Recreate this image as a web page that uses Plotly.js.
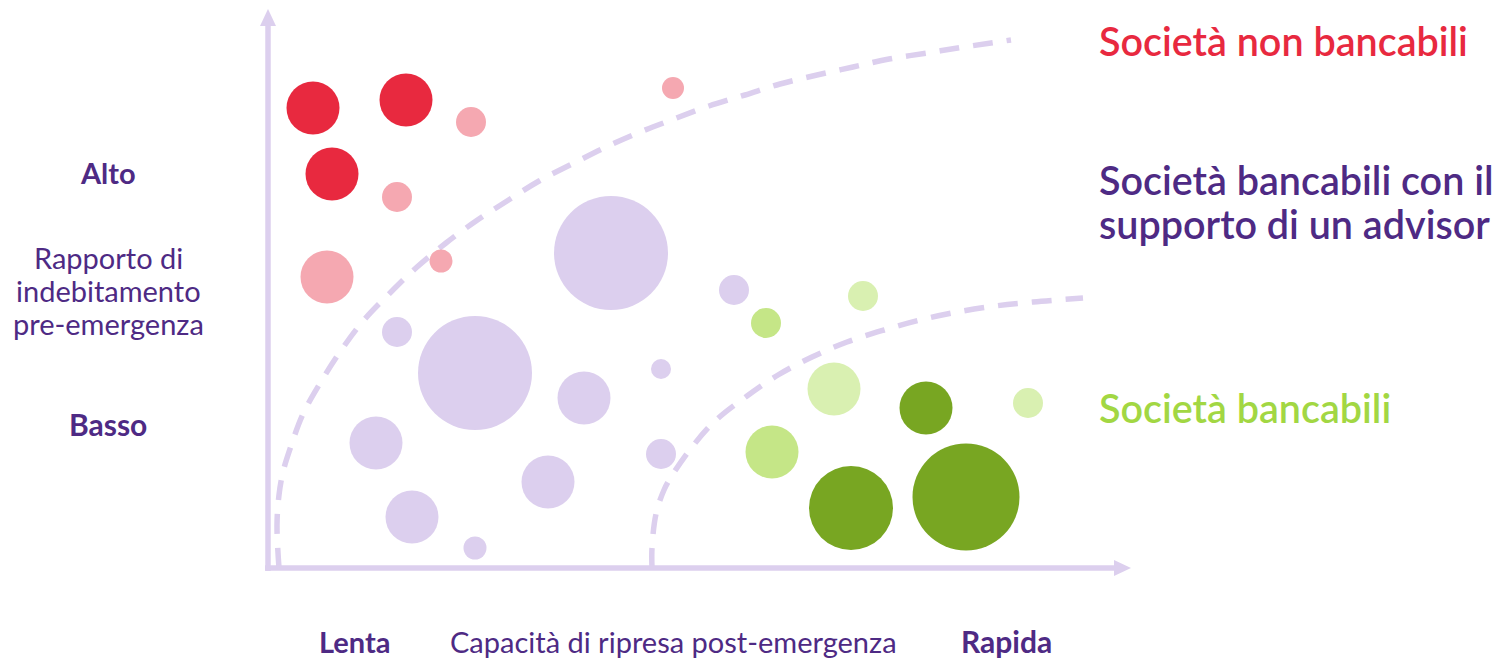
<!DOCTYPE html>
<html>
<head>
<meta charset="utf-8">
<script src="https://cdn.plot.ly/plotly-3.0.1.min.js"></script>
<style>
html,body{margin:0;padding:0;background:#ffffff;}
#chart{width:1499px;height:660px;}
</style>
</head>
<body>
<div id="chart"></div>
<script>
// ---- Data (x = recovery speed, y = pre-emergency leverage) ----
const darkRedX = [45, 138, 64];
const darkRedY = [460, 468, 394];
const darkRedSize = [53, 53, 53];

const lightRedX = [203, 129, 405, 59, 173];
const lightRedY = [446, 371, 480, 291, 307];
const lightRedSize = [30, 30, 22, 53, 23];

const purpleX = [343, 207, 129, 316, 108, 144, 207, 280, 393, 393, 466];
const purpleY = [315, 195, 236, 170, 125, 51, 20, 86, 199, 114, 278];
const purpleSize = [114, 114, 30, 53, 53, 53, 23, 53, 20, 30, 30];

const lightGreenX = [498, 504];
const lightGreenY = [245, 116];
const lightGreenSize = [30, 53];

const paleGreenX = [595, 566, 760];
const paleGreenY = [272, 179, 165];
const paleGreenSize = [30, 53, 30];

const darkGreenX = [658, 583, 698];
const darkGreenY = [160, 60, 71];
const darkGreenSize = [53, 84, 107];

// boundary curves
const outerCurveX = [11, 9, 11, 15, 22, 35, 54, 74, 96, 122, 149, 178, 208, 239, 271, 304, 338, 372, 406, 441, 477, 512, 549, 585, 621, 659, 696, 743];
const outerCurveY = [0, 43, 73, 96, 119, 154, 188, 219, 248, 275, 301, 325, 347, 367, 387, 404, 421, 436, 449, 462, 473, 484, 493, 501, 509, 515, 521, 528];

const innerCurveX = [384, 384, 388, 396, 405, 424, 447, 479, 510, 544, 579, 616, 652, 689, 727, 765, 815];
const innerCurveY = [0, 20, 54, 78, 94, 121, 147, 172, 193, 211, 226, 238, 248, 256, 262, 266, 270];

// texts
const axisEnds = {x: 863, y: 559};
const groupLabels = ['Società non bancabili', 'Società bancabili con il', 'supporto di un advisor', 'Società bancabili'];
const yTickLabels = ['Alto', 'Basso'];
const xTickLabels = ['Lenta', 'Rapida'];
const yTitleLines = ['Rapporto di', 'indebitamento', 'pre-emergenza'];
const xTitle = 'Capacità di ripresa post-emergenza';

// ---- Styles ----
const C = {
  darkRed: '#E8293F', lightRed: '#F5A8B1', purple: '#DCCFEE',
  lightGreen: '#C5E687', paleGreen: '#D9F0B1', darkGreen: '#78A622',
  text: '#4E2A84', greenText: '#A2D743'
};
const FONT = 'Lato, "Open Sans", sans-serif';

function bubbles(x, y, s, color) {
  return {type: 'scatter', mode: 'markers', x: x, y: y, hoverinfo: 'skip', showlegend: false,
    marker: {size: s, sizemode: 'diameter', color: color, opacity: 1, line: {width: 0}}};
}
function curve(x, y) {
  return {type: 'scatter', mode: 'lines', x: x, y: y, hoverinfo: 'skip', showlegend: false,
    line: {color: C.purple, width: 5.5, dash: '20px,14px', shape: 'spline', smoothing: 1}};
}

const traces = [
  curve(outerCurveX, outerCurveY),
  curve(innerCurveX, innerCurveY),
  bubbles(purpleX, purpleY, purpleSize, C.purple),
  bubbles(darkRedX, darkRedY, darkRedSize, C.darkRed),
  bubbles(lightRedX, lightRedY, lightRedSize, C.lightRed),
  bubbles(lightGreenX, lightGreenY, lightGreenSize, C.lightGreen),
  bubbles(paleGreenX, paleGreenY, paleGreenSize, C.paleGreen),
  bubbles(darkGreenX, darkGreenY, darkGreenSize, C.darkGreen)
];

function label(text, x, y, size, color, weight, anchor) {
  return {text: text, x: x, y: y, xref: 'x', yref: 'y', showarrow: false,
    xanchor: anchor || 'center', yanchor: 'middle', borderpad: 0,
    font: {family: FONT, size: size, color: color, weight: weight || 400}};
}

const annotations = [
  label(groupLabels[0], 830, 528, 39.5, C.darkRed, 600, 'left'),
  label(groupLabels[1], 830, 389, 39.5, C.text, 600, 'left'),
  label(groupLabels[2], 830, 345, 39.5, C.text, 600, 'left'),
  label(groupLabels[3], 830, 161, 39.5, C.greenText, 600, 'left'),
  label(yTickLabels[0], -160, 396, 29, C.text, 700),
  label(yTickLabels[1], -160, 144, 30, C.text, 700),
  label(yTitleLines[0], -160, 311, 29, C.text, 400),
  label(yTitleLines[1], -160, 278, 29, C.text, 400),
  label(yTitleLines[2], -160, 245, 29, C.text, 400),
  label(xTickLabels[0], 86, -73, 29, C.text, 700),
  label(xTitle, 405, -73, 29, C.text, 400),
  label(xTickLabels[1], 738, -73, 30, C.text, 700)
];

const shapes = [
  {type: 'line', xref: 'x', yref: 'y', x0: -3, y0: 0, x1: axisEnds.x - 16, y1: 0, line: {color: C.purple, width: 5.5}, layer: 'below'},
  {type: 'path', xref: 'x', yref: 'y', path: `M ${axisEnds.x - 17} 8 L ${axisEnds.x} 0 L ${axisEnds.x - 17} -8 Z`, fillcolor: C.purple, line: {width: 0}, layer: 'below'},
  {type: 'line', xref: 'x', yref: 'y', x0: 0, y0: -3, x1: 0, y1: axisEnds.y - 16, line: {color: C.purple, width: 5.5}, layer: 'below'},
  {type: 'path', xref: 'x', yref: 'y', path: `M -8 ${axisEnds.y - 17} L 0 ${axisEnds.y} L 8 ${axisEnds.y - 17} Z`, fillcolor: C.purple, line: {width: 0}, layer: 'below'}
];

const layout = {
  width: 1499, height: 660,
  margin: {l: 0, r: 0, t: 0, b: 0, pad: 0},
  paper_bgcolor: '#ffffff', plot_bgcolor: '#ffffff',
  showlegend: false,
  xaxis: {range: [-268, 1231], visible: false, fixedrange: true},
  yaxis: {range: [-92, 568], visible: false, fixedrange: true},
  annotations: annotations,
  shapes: shapes,
  font: {family: FONT}
};

Plotly.newPlot('chart', traces, layout, {displayModeBar: false, staticPlot: true});
</script>
</body>
</html>
